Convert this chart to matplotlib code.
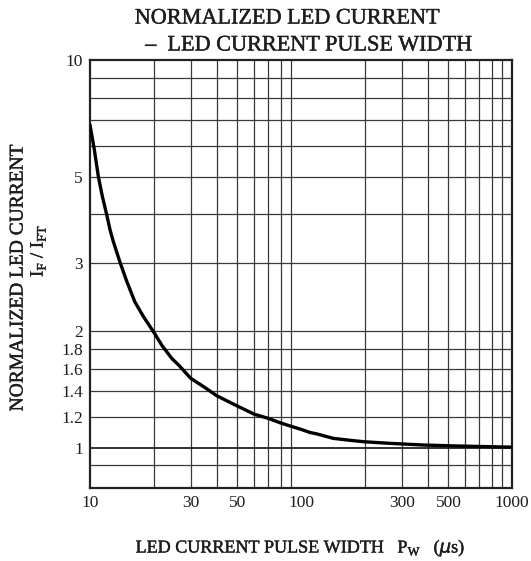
import numpy as np
import matplotlib.pyplot as plt
import matplotlib.patheffects as pe
from matplotlib.ticker import FixedLocator, NullLocator, NullFormatter

# values (log-log)
pulse_width = [10, 10.48, 10.95, 11.44, 12.0, 12.44, 12.9, 13.87, 14.92, 16.3,
               17.9, 20, 22, 24.4, 26.7, 30, 35, 40, 50, 60, 70, 79.4, 88.6,
               100, 110, 119, 142, 170, 198, 264, 379, 550, 1000]
norm_current = [6.8, 5.88, 5.01, 4.45, 3.99, 3.65, 3.40, 3.01, 2.69, 2.38,
                2.18, 1.99, 1.83, 1.70, 1.62, 1.51, 1.43, 1.36, 1.28, 1.22,
                1.19, 1.16, 1.138, 1.115, 1.095, 1.085, 1.057, 1.045, 1.036,
                1.026, 1.016, 1.01, 1.003]

x_ticks = [10, 30, 50, 100, 300, 500, 1000]
x_ticklabels = ['10', '30', '50', '100', '300', '500', '1000']
y_ticks = [1, 1.2, 1.4, 1.6, 1.8, 2, 3, 5, 10]
y_ticklabels = ['1', '1.2', '1.4', '1.6', '1.8', '2', '3', '5', '10']

x_grid = [m * 10 ** e for e in (1, 2) for m in range(2, 10)]
y_grid = [0.9, 1.2, 1.4, 1.6, 1.8, 2, 3, 4, 5, 6, 7, 8, 9]
y_grid_bold = [1]

plt.rcParams['font.family'] = ['Liberation Serif', 'DejaVu Serif']
ink = '#1e1e1e'
heavy = [pe.withStroke(linewidth=0.3, foreground=ink)]

fig = plt.figure(figsize=(5.31, 5.61), dpi=100)
ax = fig.add_axes([90 / 531, 73 / 561, 422 / 531, 428 / 561])
ax.set_xscale('log')
ax.set_yscale('log')
ax.set_xlim(10, 1000)
ax.set_ylim(0.787, 10)

for xv in x_grid:
    ax.axvline(xv, color='#3a3a3a', lw=0.9, zorder=1)
for yv in y_grid:
    ax.axhline(yv, color='#3a3a3a', lw=0.9, zorder=1)
for yv in y_grid_bold:
    ax.axhline(yv, color='#222222', lw=1.3, zorder=1)

ax.plot(pulse_width, norm_current, color='black', lw=2.4, zorder=3,
        solid_capstyle='round', solid_joinstyle='round')

for s in ax.spines.values():
    s.set_linewidth(1.6)
    s.set_color('#222222')

ax.xaxis.set_major_locator(FixedLocator(x_ticks))
ax.xaxis.set_minor_locator(NullLocator())
ax.xaxis.set_minor_formatter(NullFormatter())
ax.set_xticklabels(x_ticklabels)
ax.yaxis.set_major_locator(FixedLocator(y_ticks))
ax.yaxis.set_minor_locator(NullLocator())
ax.yaxis.set_minor_formatter(NullFormatter())
ax.set_yticklabels(y_ticklabels)
ax.tick_params(length=0, labelsize=12.5, pad=5, labelcolor=ink)

fig.text(0.541, 0.966, 'NORMALIZED LED CURRENT', ha='center', va='center',
         fontsize=16, color=ink, path_effects=heavy)
fig.text(0.582, 0.918, '\u2013  LED CURRENT PULSE WIDTH', ha='center',
         va='center', fontsize=16, color=ink, path_effects=heavy)

fig.text(0.034, 0.506, 'NORMALIZED LED CURRENT', rotation=90, ha='center',
         va='center', fontsize=14, color=ink, path_effects=heavy)
fig.text(0.071, 0.553, r'I$_\mathregular{F}$ / I$_\mathregular{FT}$',
         rotation=90, ha='center', va='center', fontsize=13.5, color=ink,
         path_effects=heavy)

fig.text(0.565, 0.023, r'LED CURRENT PULSE WIDTH   P$_\mathregular{W}$   ($\mu$s)',
         ha='center', va='center', fontsize=13, color=ink, path_effects=heavy)

fig.savefig('out.png', dpi=100)
